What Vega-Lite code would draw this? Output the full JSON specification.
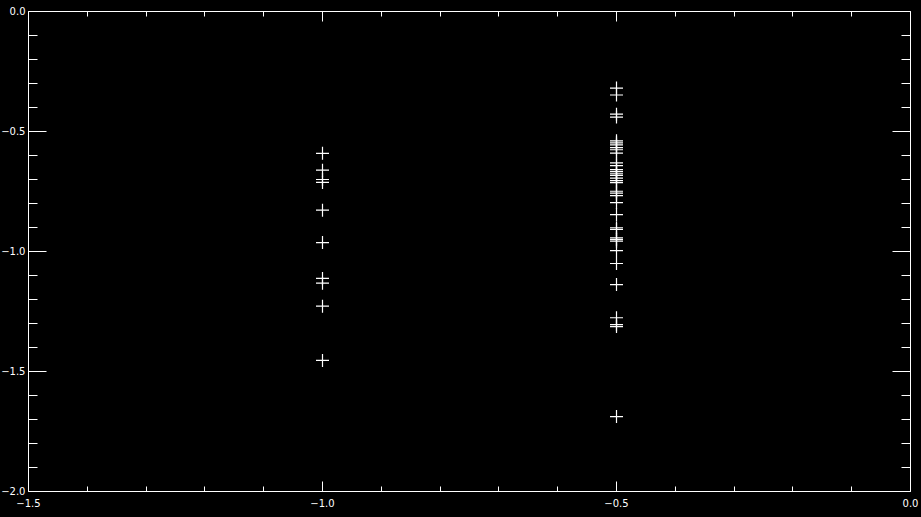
{
  "$schema": "https://vega.github.io/schema/vega-lite/v6.json",
  "width": 882,
  "height": 480,
  "autosize": "none",
  "padding": {"left": 28, "top": 11, "right": 11, "bottom": 26},
  "background": "black",
  "config": {
    "view": {"stroke": null},
    "axis": {
      "domainColor": "white",
      "domainWidth": 1,
      "tickColor": "white",
      "tickWidth": 1,
      "labelColor": "white",
      "labelFont": "DejaVu Sans",
      "labelFontSize": 10,
      "grid": false,
      "title": null
    }
  },
  "data": {
    "values": [
      {"x": -1.0, "y": -0.591}, {"x": -1.0, "y": -0.661}, {"x": -1.0, "y": -0.700}, {"x": -1.0, "y": -0.712},
      {"x": -1.0, "y": -0.828}, {"x": -1.0, "y": -0.963}, {"x": -1.0, "y": -1.112}, {"x": -1.0, "y": -1.132},
      {"x": -1.0, "y": -1.228}, {"x": -1.0, "y": -1.454},
      {"x": -0.5, "y": -0.319}, {"x": -0.5, "y": -0.348}, {"x": -0.5, "y": -0.428}, {"x": -0.5, "y": -0.440},
      {"x": -0.5, "y": -0.539}, {"x": -0.5, "y": -0.547}, {"x": -0.5, "y": -0.556}, {"x": -0.5, "y": -0.567},
      {"x": -0.5, "y": -0.576}, {"x": -0.5, "y": -0.590}, {"x": -0.5, "y": -0.631}, {"x": -0.5, "y": -0.642},
      {"x": -0.5, "y": -0.659}, {"x": -0.5, "y": -0.667}, {"x": -0.5, "y": -0.676}, {"x": -0.5, "y": -0.683},
      {"x": -0.5, "y": -0.694}, {"x": -0.5, "y": -0.705}, {"x": -0.5, "y": -0.713}, {"x": -0.5, "y": -0.749},
      {"x": -0.5, "y": -0.757}, {"x": -0.5, "y": -0.767}, {"x": -0.5, "y": -0.796}, {"x": -0.5, "y": -0.846},
      {"x": -0.5, "y": -0.901}, {"x": -0.5, "y": -0.908}, {"x": -0.5, "y": -0.943}, {"x": -0.5, "y": -0.950},
      {"x": -0.5, "y": -0.957}, {"x": -0.5, "y": -0.996}, {"x": -0.5, "y": -1.050}, {"x": -0.5, "y": -1.138},
      {"x": -0.5, "y": -1.276}, {"x": -0.5, "y": -1.305}, {"x": -0.5, "y": -1.313}, {"x": -0.5, "y": -1.688}
    ]
  },
  "layer": [
    {
      "mark": {"type": "point", "shape": "M-1,0H1M0,-1V1", "filled": false, "stroke": "white", "strokeWidth": 1.2, "size": 169, "opacity": 1, "xOffset": 0.5, "yOffset": 0.5},
      "encoding": {
        "x": {
          "field": "x", "type": "quantitative",
          "scale": {"domain": [-1.5, 0], "nice": false, "zero": false},
          "axis": {
            "orient": "bottom",
            "values": [-1.5, -1.4, -1.3, -1.2, -1.1, -1.0, -0.9, -0.8, -0.7, -0.6, -0.5, -0.4, -0.3, -0.2, -0.1, 0.0],
            "format": ".1f",
            "labelExpr": "abs(round(datum.value*10)) % 5 === 0 ? datum.label : ''",
            "tickSize": {"condition": {"test": "abs(round(datum.value*10)) % 5 === 0", "value": -10}, "value": -5},
            "labelPadding": 17,
            "labelFlush": false,
            "labelOverlap": false
          }
        },
        "y": {
          "field": "y", "type": "quantitative",
          "scale": {"domain": [-2, 0], "nice": false, "zero": false},
          "axis": {
            "orient": "left",
            "values": [-2.0, -1.9, -1.8, -1.7, -1.6, -1.5, -1.4, -1.3, -1.2, -1.1, -1.0, -0.9, -0.8, -0.7, -0.6, -0.5, -0.4, -0.3, -0.2, -0.1, 0.0],
            "format": ".1f",
            "labelExpr": "abs(round(datum.value*10)) % 5 === 0 ? datum.label : ''",
            "tickSize": {"condition": {"test": "abs(round(datum.value*10)) % 5 === 0", "value": -18}, "value": -9},
            "labelPadding": 21,
            "labelFlush": false,
            "labelOverlap": false
          }
        }
      }
    },
    {
      "mark": {"type": "point", "opacity": 0},
      "encoding": {
        "x": {
          "field": "x", "type": "quantitative",
          "scale": {"domain": [-1.5, 0], "nice": false, "zero": false},
          "axis": {
            "orient": "top",
            "values": [-1.5, -1.4, -1.3, -1.2, -1.1, -1.0, -0.9, -0.8, -0.7, -0.6, -0.5, -0.4, -0.3, -0.2, -0.1, 0.0],
            "labels": false,
            "tickSize": {"condition": {"test": "abs(round(datum.value*10)) % 5 === 0", "value": -10}, "value": -5}
          }
        },
        "y": {
          "field": "y", "type": "quantitative",
          "scale": {"domain": [-2, 0], "nice": false, "zero": false},
          "axis": {
            "orient": "right",
            "values": [-2.0, -1.9, -1.8, -1.7, -1.6, -1.5, -1.4, -1.3, -1.2, -1.1, -1.0, -0.9, -0.8, -0.7, -0.6, -0.5, -0.4, -0.3, -0.2, -0.1, 0.0],
            "labels": false,
            "tickSize": {"condition": {"test": "abs(round(datum.value*10)) % 5 === 0", "value": -18}, "value": -9}
          }
        }
      }
    }
  ],
  "resolve": {"axis": {"x": "independent", "y": "independent"}}
}
